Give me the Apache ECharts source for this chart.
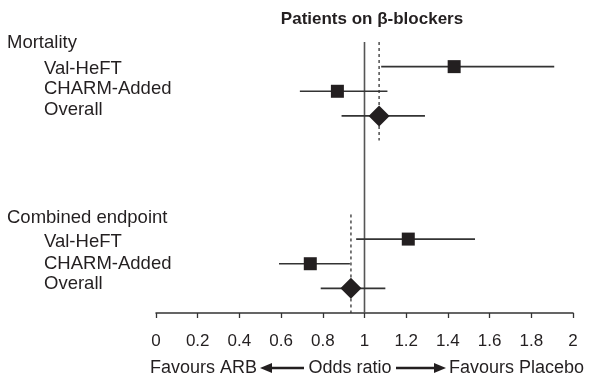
<!DOCTYPE html>
<html>
<head>
<meta charset="utf-8">
<script src="https://cdn.jsdelivr.net/npm/echarts@6/dist/echarts.min.js"></script>
<style>
  html, body { margin: 0; padding: 0; background: #fff; }
  #chart { width: 589px; height: 385px; }
</style>
</head>
<body>
<div id="chart"></div>
<script>
// ---- data ----
const groups = ['Mortality', 'Combined endpoint'];
const studies = ['Val-HeFT', 'CHARM-Added', 'Overall'];
const mortalityOR   = [1.43, 0.87, 1.07];
const mortalityLow  = [1.08, 0.69, 0.89];
const mortalityHigh = [1.91, 1.11, 1.29];
const combinedOR    = [1.21, 0.74, 0.935];
const combinedLow   = [0.96, 0.59, 0.79];
const combinedHigh  = [1.53, 0.93, 1.10];
const xTicks = [0, 0.2, 0.4, 0.6, 0.8, 1, 1.2, 1.4, 1.6, 1.8, 2];
const titleText = 'Patients on β-blockers';

// ---- build rows ----
const gapRows = 3;
const categories = [groups[0], ...studies];
const mortStart = 1;
for (let i = 0; i < gapRows; i++) categories.push('');
const combGroupRow = categories.length;
categories.push(groups[1], ...studies);
const combStart = combGroupRow + 1;
categories.push('');
const lastRow = categories.length - 1;

const forestData = [];
studies.forEach((s, i) => {
  forestData.push([mortalityLow[i], mortalityHigh[i], mortalityOR[i], mortStart + i, s === 'Overall' ? 1 : 0]);
});
studies.forEach((s, i) => {
  forestData.push([combinedLow[i], combinedHigh[i], combinedOR[i], combStart + i, s === 'Overall' ? 1 : 0]);
});

const mortPooled = mortalityOR[2];
const combPooled = combinedOR[2];

const FONT = '"Liberation Sans", Arial, Helvetica, sans-serif';
const TXT = '#231f20';
const LINE = '#333333';

// label text nudges (px, + = down) so the row labels sit like the original
const labelNudge = [1, 2, -2, -6, 0, 0, 0, 3, 3, 0, -4, 0];
const rich = {};
labelNudge.forEach((d, idx) => {
  const isGroup = idx === 0 || idx === combGroupRow;
  rich['r' + idx] = {
    fontSize: 18.5, color: TXT, fontFamily: FONT,
    padding: [d > 0 ? 2 * d : 0, 0, d < 0 ? -2 * d : 0, isGroup ? 0 : 37]
  };
});

const chart = echarts.init(document.getElementById('chart'));
chart.setOption({
  animation: false,
  backgroundColor: '#fff',
  textStyle: { fontFamily: FONT },
  title: {
    text: titleText,
    left: 367,
    top: 6,
    textAlign: 'center',
    textStyle: { fontFamily: FONT, fontSize: 17, fontWeight: 'bold', color: TXT }
  },
  grid: { left: 156, right: 16, top: 42, bottom: 72, containLabel: false },
  xAxis: {
    type: 'value',
    position: 'bottom',
    min: xTicks[0],
    max: xTicks[xTicks.length - 1],
    interval: 0.2,
    splitLine: { show: false },
    axisLine: { onZero: false, lineStyle: { color: LINE, width: 1.5 } },
    axisTick: { length: 5, lineStyle: { color: LINE, width: 1.3 } },
    axisLabel: {
      fontSize: 17, color: TXT, margin: 20, fontFamily: FONT,
      formatter: v => String(+(+v).toFixed(1))
    }
  },
  yAxis: {
    type: 'value',
    min: 0,
    max: lastRow,
    interval: 1,
    inverse: true,
    axisLine: { show: false },
    axisTick: { show: false },
    splitLine: { show: false },
    axisLabel: {
      align: 'left',
      margin: 149,
      fontFamily: FONT,
      showMinLabel: true,
      showMaxLabel: true,
      formatter: (v) => {
        const idx = Math.round(v);
        const name = categories[idx];
        if (!name) return '';
        return '{r' + idx + '|' + name + '}';
      },
      rich: rich
    }
  },
  series: [
    {
      type: 'line',
      data: [[1, 0], [1, lastRow]],
      symbol: 'none',
      lineStyle: { color: '#555', width: 1.6 },
      z: 1
    },
    {
      type: 'line',
      data: [[mortPooled, 0], [mortPooled, mortStart + studies.length]],
      symbol: 'none',
      lineStyle: { color: LINE, width: 1.3, type: [3, 3] },
      z: 1
    },
    {
      type: 'line',
      data: [[combPooled, combGroupRow], [combPooled, lastRow]],
      symbol: 'none',
      lineStyle: { color: LINE, width: 1.3, type: [3, 3] },
      z: 1
    },
    {
      type: 'custom',
      data: forestData,
      dimensions: ['low', 'high', 'or', 'row', 'kind'],
      encode: { x: [0, 1, 2], y: 3 },
      z: 3,
      renderItem: (params, api) => {
        const row = api.value(3);
        const p1 = api.coord([api.value(0), row]);
        const p2 = api.coord([api.value(1), row]);
        const pc = api.coord([api.value(2), row]);
        const isOverall = api.value(4) === 1;
        const children = [
          { type: 'line', shape: { x1: p1[0], y1: p1[1], x2: p2[0], y2: p2[1] },
            style: { stroke: LINE, lineWidth: 1.6 } }
        ];
        if (isOverall) {
          const h = 10.5;
          children.push({ type: 'polygon',
            shape: { points: [[pc[0] - h, pc[1]], [pc[0], pc[1] - h], [pc[0] + h, pc[1]], [pc[0], pc[1] + h]] },
            style: { fill: TXT } });
        } else {
          const s = 13;
          children.push({ type: 'rect',
            shape: { x: pc[0] - s / 2, y: pc[1] - s / 2, width: s, height: s },
            style: { fill: TXT } });
        }
        return { type: 'group', children };
      }
    }
  ],
  graphic: [
    { type: 'text', style: { text: 'Favours ARB', x: 257, y: 368, align: 'right', verticalAlign: 'middle', font: '18px ' + FONT, fill: TXT } },
    { type: 'text', style: { text: 'Odds ratio', x: 350, y: 368, align: 'center', verticalAlign: 'middle', font: '18px ' + FONT, fill: TXT } },
    { type: 'text', style: { text: 'Favours Placebo', x: 449, y: 368, align: 'left', verticalAlign: 'middle', font: '18px ' + FONT, fill: TXT } },
    { type: 'line', shape: { x1: 270, y1: 368, x2: 304, y2: 368 }, style: { stroke: TXT, lineWidth: 2.5 } },
    { type: 'polygon', shape: { points: [[260, 368], [272, 363], [272, 373]] }, style: { fill: TXT } },
    { type: 'line', shape: { x1: 396, y1: 368, x2: 434, y2: 368 }, style: { stroke: TXT, lineWidth: 2.5 } },
    { type: 'polygon', shape: { points: [[446, 368], [434, 363], [434, 373]] }, style: { fill: TXT } }
  ]
});
</script>
</body>
</html>
